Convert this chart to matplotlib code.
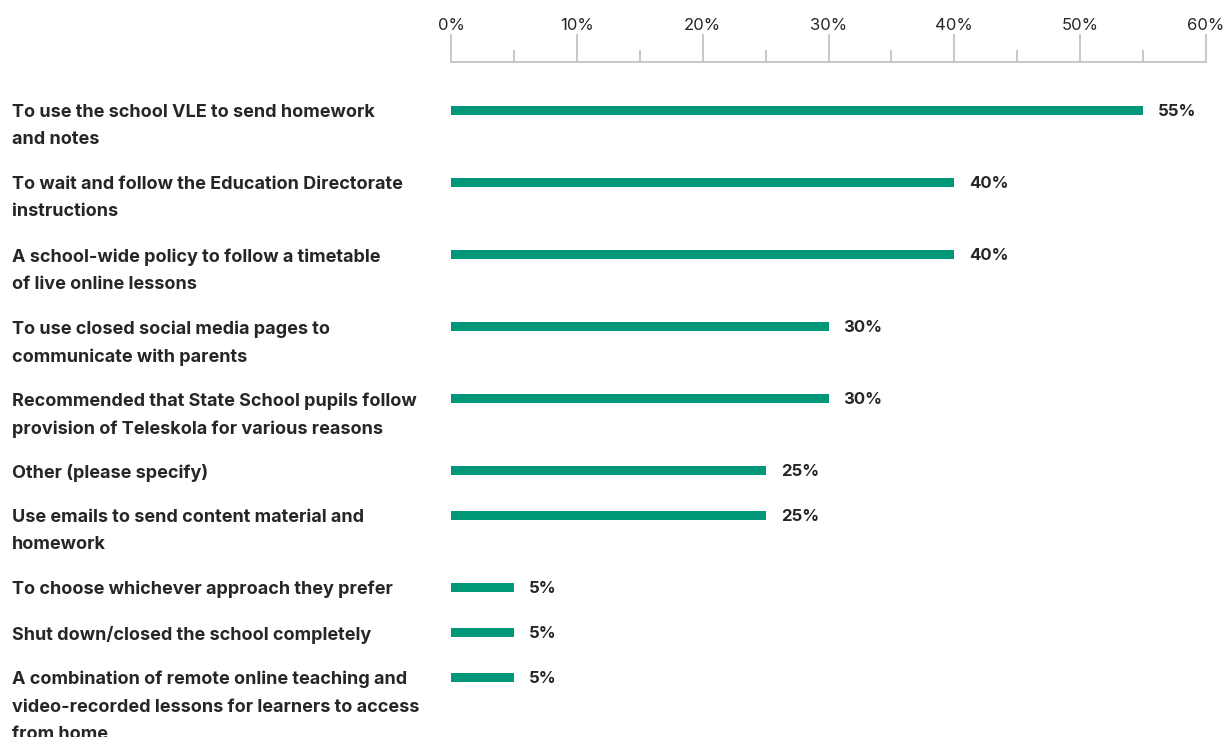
import matplotlib.pyplot as plt
from matplotlib.transforms import blended_transform_factory

# responses and share of schools choosing each approach
labels = [
    'To use the school VLE to send homework\nand notes',
    'To wait and follow the Education Directorate\ninstructions',
    'A school-wide policy to follow a timetable\nof live online lessons',
    'To use closed social media pages to\ncommunicate with parents',
    'Recommended that State School pupils follow\nprovision of Teleskola for various reasons',
    'Other (please specify)',
    'Use emails to send content material and\nhomework',
    'To choose whichever approach they prefer',
    'Shut down/closed the school completely',
    'A combination of remote online teaching and\nvideo-recorded lessons for learners to access\nfrom home',
]
values = [55, 40, 40, 30, 30, 25, 25, 5, 5, 5]
ticks = [0, 10, 20, 30, 40, 50, 60]

bar_color = '#009878'
text_color = '#262626'
axis_color = '#c4c4c4'
font = 'Inter'

W, H = 1225, 737
fig = plt.figure(figsize=(W / 100, H / 100), dpi=100)
ax_top = 62
ax = fig.add_axes([451 / W, 0, (1206 - 451) / W, (H - ax_top) / H])

# row positions grow with the number of lines in each label
ypos = []
y = 48
for lab in labels:
    ypos.append(y)
    y += 27 * (lab.count('\n') + 1) + 18

ax.barh(ypos, values, height=9, color=bar_color, linewidth=0)
ax.set_xlim(0, 60)
ax.set_ylim(H - ax_top, 0)

for yy, v in zip(ypos, values):
    ax.text(v + 1.2, yy + 1.5, f'{v}%', va='center', ha='left', fontsize=12,
            fontweight='bold', family=font, color=text_color)

trans = blended_transform_factory(fig.transFigure, ax.transData)
for yy, lab in zip(ypos, labels):
    ax.text(12 / W, yy - 6, lab, transform=trans, va='top', ha='left',
            fontsize=13, fontweight='bold', family=font, color=text_color,
            linespacing=1.8)

# top axis with major ticks every 10% and minor every 5%
for s in ['right', 'bottom', 'left']:
    ax.spines[s].set_visible(False)
ax.spines['top'].set_color(axis_color)
ax.spines['top'].set_linewidth(1.3)
ax.xaxis.tick_top()
ax.set_xticks(ticks)
ax.set_xticklabels([f'{t}%' for t in ticks], family=font, fontsize=12,
                   color=text_color)
ax.set_xticks(range(5, 60, 10), minor=True)
ax.tick_params(axis='x', which='major', length=20, width=1.3, color=axis_color, pad=1)
ax.tick_params(axis='x', which='minor', length=9, width=1.3, color=axis_color)
ax.set_yticks([])
ax.set_facecolor('none')

fig.savefig('out.png', dpi=100)
